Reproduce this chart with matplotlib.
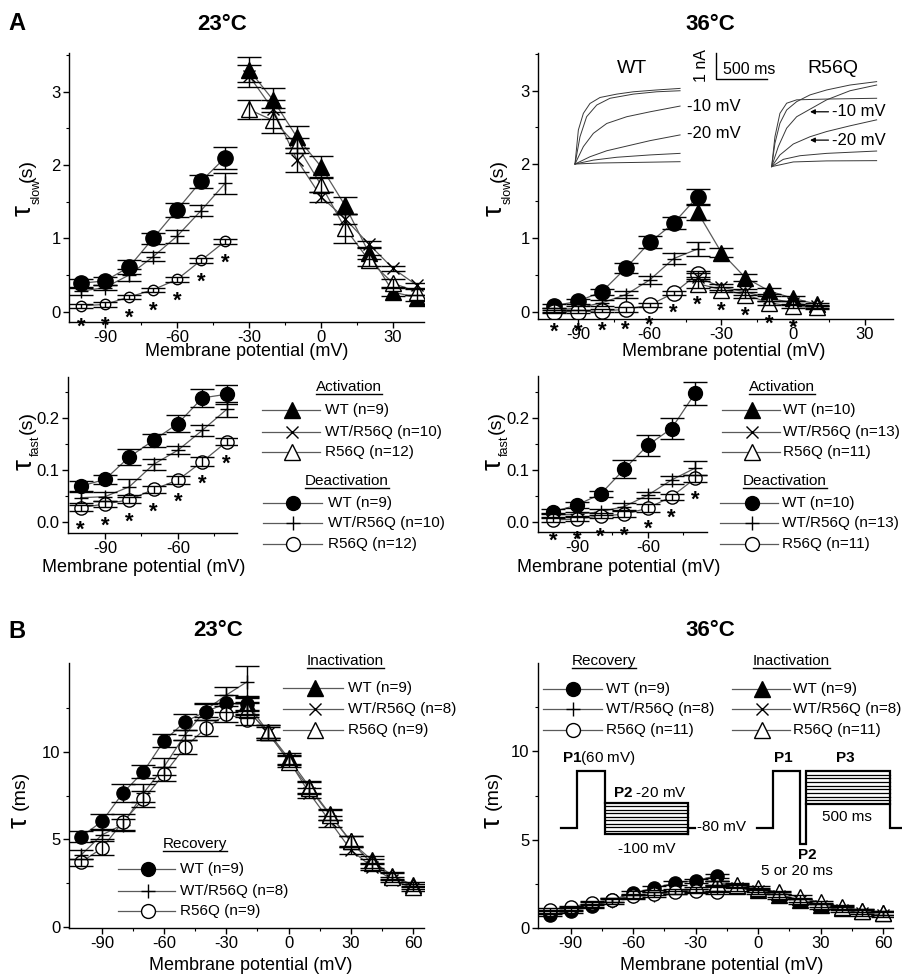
import matplotlib
matplotlib.use('Agg')
import matplotlib.pyplot as plt
from matplotlib.lines import Line2D
import numpy as np

plt.rcParams['font.family'] = ['Liberation Sans', 'DejaVu Sans']
plt.rcParams['mathtext.fontset'] = 'custom'
plt.rcParams['mathtext.rm'] = 'Liberation Sans'
plt.rcParams['mathtext.it'] = 'Liberation Sans:italic'
plt.rcParams['mathtext.bf'] = 'Liberation Sans:bold'
plt.rcParams['axes.unicode_minus'] = False

# ---------------- data ----------------
V_DEACT = [-100, -90, -80, -70, -60, -50, -40]
V_ACT23 = [-30, -20, -10, 0, 10, 20, 30, 40]
V_ACT36 = [-40, -30, -20, -10, 0, 10]
V_REC = [-100, -90, -80, -70, -60, -50, -40, -30, -20]
V_INACT = [-20, -10, 0, 10, 20, 30, 40, 50, 60]

# A, 23 C, tau slow (s)
slow23_deact_wt = [0.39, 0.42, 0.61, 1.00, 1.39, 1.78, 2.10]
slow23_deact_wt_err = [0.05, 0.05, 0.09, 0.08, 0.10, 0.09, 0.15]
slow23_deact_het = [0.28, 0.33, 0.50, 0.75, 1.03, 1.38, 1.75]
slow23_deact_het_err = [0.05, 0.04, 0.08, 0.06, 0.09, 0.07, 0.14]
slow23_deact_mut = [0.08, 0.10, 0.20, 0.30, 0.44, 0.70, 0.96]
slow23_deact_mut_err = [0.03, 0.03, 0.03, 0.03, 0.03, 0.03, 0.03]
slow23_act_wt = [3.30, 2.89, 2.38, 1.98, 1.45, 0.80, 0.27, 0.19]
slow23_act_wt_err = [0.17, 0.16, 0.15, 0.14, 0.12, 0.08, 0.05, 0.04]
slow23_act_het = [3.22, 2.76, 2.07, 1.57, 1.27, 0.92, 0.59, 0.36]
slow23_act_het_err = [0.15, 0.13, 0.17, 0.07, 0.07, 0.05, 0.04, 0.03]
slow23_act_mut = [2.76, 2.61, 2.27, 1.73, 1.14, 0.70, 0.39, 0.27]
slow23_act_mut_err = [0.13, 0.17, 0.10, 0.10, 0.20, 0.07, 0.05, 0.04]
stars_slow23 = [-100, -90, -80, -70, -60, -50, -40]

# A, 36 C, tau slow (s)
slow36_deact_wt = [0.08, 0.14, 0.27, 0.59, 0.94, 1.20, 1.56]
slow36_deact_wt_err = [0.03, 0.03, 0.04, 0.07, 0.08, 0.08, 0.10]
slow36_deact_het = [0.02, 0.05, 0.12, 0.23, 0.43, 0.72, 0.85]
slow36_deact_het_err = [0.03, 0.03, 0.04, 0.05, 0.06, 0.07, 0.09]
slow36_deact_mut = [0.00, 0.00, 0.01, 0.03, 0.09, 0.25, 0.51]
slow36_deact_mut_err = [0.02, 0.02, 0.02, 0.03, 0.03, 0.03, 0.04]
slow36_act_wt = [1.35, 0.80, 0.46, 0.28, 0.18, 0.10]
slow36_act_wt_err = [0.10, 0.06, 0.05, 0.04, 0.03, 0.02]
slow36_act_het = [0.47, 0.33, 0.27, 0.18, 0.12, 0.07]
slow36_act_het_err = [0.06, 0.04, 0.04, 0.03, 0.02, 0.02]
slow36_act_mut = [0.38, 0.30, 0.23, 0.12, 0.07, 0.06]
slow36_act_mut_err = [0.06, 0.04, 0.04, 0.03, 0.02, 0.02]
stars_slow36_deact = [-100, -90, -80, -70, -60, -50]
stars_slow36_act = [-40, -30, -20, -10, 0]

# A, tau fast (s)
fast23_wt = [0.069, 0.082, 0.125, 0.157, 0.189, 0.238, 0.245]
fast23_wt_err = [0.010, 0.008, 0.016, 0.012, 0.016, 0.017, 0.018]
fast23_het = [0.047, 0.049, 0.068, 0.111, 0.138, 0.176, 0.216]
fast23_het_err = [0.010, 0.008, 0.015, 0.010, 0.008, 0.010, 0.015]
fast23_mut = [0.028, 0.035, 0.043, 0.063, 0.081, 0.116, 0.154]
fast23_mut_err = [0.006, 0.006, 0.006, 0.007, 0.008, 0.008, 0.007]
fast36_wt = [0.019, 0.032, 0.053, 0.101, 0.147, 0.179, 0.247]
fast36_wt_err = [0.005, 0.005, 0.006, 0.017, 0.020, 0.020, 0.022]
fast36_het = [0.013, 0.014, 0.019, 0.029, 0.051, 0.080, 0.103]
fast36_het_err = [0.004, 0.004, 0.006, 0.006, 0.006, 0.007, 0.013]
fast36_mut = [0.003, 0.005, 0.011, 0.014, 0.026, 0.048, 0.083]
fast36_mut_err = [0.004, 0.004, 0.005, 0.006, 0.007, 0.006, 0.007]
stars_fast = [-100, -90, -80, -70, -60, -50, -40]

# B, tau (ms)
rec23_wt = [5.16, 6.02, 7.63, 8.86, 10.63, 11.70, 12.28, 12.75, 12.70]
rec23_wt_err = [0.30, 0.45, 0.50, 0.35, 0.35, 0.45, 0.45, 0.50, 0.40]
rec23_het = [4.12, 5.26, 5.83, 7.63, 9.15, 10.95, 12.37, 13.23, 13.98]
rec23_het_err = [0.25, 0.25, 0.35, 0.50, 0.50, 0.30, 0.40, 0.45, 0.90]
rec23_mut = [3.70, 4.50, 5.98, 7.30, 8.73, 10.25, 11.33, 12.14, 11.80]
rec23_mut_err = [0.20, 0.40, 0.45, 0.45, 0.40, 0.40, 0.45, 0.45, 0.30]
inact23_wt = [12.75, 11.14, 9.62, 8.00, 6.43, 4.88, 3.83, 2.92, 2.41]
inact23_wt_err = [0.40, 0.35, 0.30, 0.35, 0.30, 0.30, 0.25, 0.20, 0.15]
inact23_het = [12.47, 11.04, 9.53, 7.63, 6.02, 4.40, 3.45, 2.70, 2.22]
inact23_het_err = [0.35, 0.35, 0.30, 0.30, 0.30, 0.25, 0.20, 0.15, 0.15]
inact23_mut = [12.37, 11.14, 9.43, 7.91, 6.39, 4.88, 3.64, 2.88, 2.31]
inact23_mut_err = [0.40, 0.35, 0.30, 0.35, 0.30, 0.30, 0.25, 0.20, 0.15]

rec36_wt = [0.75, 0.94, 1.26, 1.60, 1.98, 2.26, 2.55, 2.68, 2.96]
rec36_wt_err = [0.08, 0.08, 0.10, 0.10, 0.10, 0.12, 0.12, 0.12, 0.12]
rec36_het = [0.89, 1.08, 1.32, 1.51, 1.79, 1.89, 2.08, 2.17, 2.17]
rec36_het_err = [0.12, 0.12, 0.15, 0.15, 0.15, 0.15, 0.15, 0.15, 0.15]
rec36_mut = [1.04, 1.19, 1.42, 1.60, 1.79, 1.94, 2.02, 2.08, 2.02]
rec36_mut_err = [0.08, 0.08, 0.10, 0.10, 0.10, 0.10, 0.10, 0.10, 0.10]
inact36_wt = [2.55, 2.36, 2.17, 1.89, 1.60, 1.32, 1.13, 0.94, 0.85]
inact36_wt_err = [0.12, 0.12, 0.12, 0.12, 0.12, 0.12, 0.12, 0.12, 0.12]
inact36_het = [2.50, 2.26, 2.08, 1.79, 1.51, 1.23, 1.04, 0.85, 0.75]
inact36_het_err = [0.15, 0.15, 0.15, 0.15, 0.15, 0.15, 0.15, 0.15, 0.15]
inact36_mut = [2.55, 2.42, 2.26, 2.02, 1.74, 1.45, 1.19, 0.98, 0.85]
inact36_mut_err = [0.10, 0.10, 0.10, 0.10, 0.10, 0.10, 0.10, 0.10, 0.10]

# inset current traces (time ms, current nA)
wt_trace_t = [[0, 33, 82, 147, 245, 409, 572, 801, 1030],
              [0, 49, 114, 213, 343, 572, 801, 1030],
              [0, 82, 180, 311, 507, 736, 1030],
              [0, 147, 311, 507, 736, 1030],
              [0, 180, 409, 736, 1030],
              [0, 245, 572, 1030]]
wt_trace_i = [[0, 1.31, 1.95, 2.33, 2.56, 2.69, 2.78, 2.85, 2.91],
              [0, 1.05, 1.82, 2.27, 2.53, 2.69, 2.78, 2.82],
              [0, 0.67, 1.18, 1.56, 1.82, 2.01, 2.23],
              [0, 0.28, 0.51, 0.69, 0.90, 1.12],
              [0, 0.15, 0.26, 0.35, 0.41],
              [0, 0.04, 0.06, 0.09]]
mut_trace_t = [[0, 32, 81, 147, 245, 376, 539, 768, 1029],
               [0, 65, 147, 245, 376, 539, 768, 1029],
               [0, 32, 81, 147, 245, 539, 1029],
               [0, 81, 212, 376, 539, 768, 1029],
               [0, 114, 278, 539, 1029],
               [0, 212, 539, 1029]]
mut_trace_i = [[0, 0.90, 1.67, 2.18, 2.50, 2.76, 2.95, 3.14, 3.27],
               [0, 0.77, 1.48, 1.92, 2.21, 2.57, 2.92, 3.14],
               [0, 1.15, 2.05, 2.44, 2.57, 2.60, 2.63],
               [0, 0.45, 0.87, 1.15, 1.35, 1.57, 1.80],
               [0, 0.28, 0.42, 0.51, 0.60],
               [0, 0.18, 0.22, 0.23]]

# ---------------- layout ----------------
W, H = 903, 977
fig = plt.figure(figsize=(W / 100, H / 100), dpi=100)
LINE = '#5a5a5a'
CAP = 8.5


def rect(x0, y0, x1, y1):
    return [x0 / W, 1 - y1 / H, (x1 - x0) / W, (y1 - y0) / H]


def setup(ax, xlim, ylim, xt, yt, xm, ym, yfmt=None):
    ax.set_xlim(xlim)
    ax.set_ylim(ylim)
    for s in ['top', 'right']:
        ax.spines[s].set_visible(False)
    for s in ['left', 'bottom']:
        ax.spines[s].set_linewidth(1.0)
    ax.set_xticks(xt)
    ax.set_xticks(xm, minor=True)
    ax.set_yticks(yt)
    ax.set_yticks(ym, minor=True)
    if yfmt:
        ax.set_yticklabels([yfmt.format(v) for v in yt])
    ax.tick_params(which='major', direction='out', length=4, width=1, labelsize=12, pad=2)
    ax.tick_params(which='minor', direction='out', length=2.5, width=0.8)
    ax.patch.set_visible(False)


def series(ax, x, y, e, marker, ms, face, mew=1.0, z=2):
    ax.plot(x, y, '-', color=LINE, lw=0.9, zorder=z)
    ax.plot(x, y, ls='none', marker=marker, ms=ms, mfc=face, mec='black', mew=mew, zorder=z + 0.3)
    ax.errorbar(x, y, yerr=e, fmt='none', ecolor='black', elinewidth=1.0, capsize=CAP,
                capthick=1.0, zorder=z + 0.6)


def stars(ax, xs, vx, vy, off=15):
    lut = dict(zip(vx, vy))
    for xv in xs:
        ax.annotate('*', xy=(xv, lut[xv]), xytext=(0, -off - 12), textcoords='offset pixels',
                    ha='center', va='baseline', fontsize=16, fontweight='bold',
                    annotation_clip=False, zorder=6)


# overlay in pixel coordinates
ov = fig.add_axes([0, 0, 1, 1])
ov.set_xlim(0, W)
ov.set_ylim(H, 0)
ov.axis('off')
ov.set_zorder(10)
ov.patch.set_visible(False)

# ---- A top-left ----
a1 = fig.add_axes(rect(69, 53, 424, 322))
setup(a1, (-105, 42.9), (-0.14, 3.53), [-90, -60, -30, 0, 30], [0, 1, 2, 3],
      [-75, -45, -15, 15], [0.5, 1.5, 2.5, 3.5])
series(a1, V_DEACT, slow23_deact_wt, slow23_deact_wt_err, 'o', 11, 'black')
series(a1, V_DEACT, slow23_deact_het, slow23_deact_het_err, '+', 10, 'black')
series(a1, V_DEACT, slow23_deact_mut, slow23_deact_mut_err, 'o', 7.5, 'white')
series(a1, V_ACT23, slow23_act_wt, slow23_act_wt_err, '^', 11, 'black')
series(a1, V_ACT23, slow23_act_het, slow23_act_het_err, 'x', 9, 'black')
series(a1, V_ACT23, slow23_act_mut, slow23_act_mut_err, '^', 11, 'white')
stars(a1, stars_slow23, V_DEACT, slow23_deact_mut)

# ---- A top-right ----
a2 = fig.add_axes(rect(538, 53, 893, 319))
setup(a2, (-106.7, 41.7), (-0.1, 3.51), [-90, -60, -30, 0, 30], [0, 1, 2, 3],
      [-75, -45, -15, 15], [0.5, 1.5, 2.5, 3.5])
series(a2, V_DEACT, slow36_deact_wt, slow36_deact_wt_err, 'o', 11, 'black')
series(a2, V_DEACT, slow36_deact_het, slow36_deact_het_err, '+', 10, 'black')
series(a2, V_DEACT, slow36_deact_mut, slow36_deact_mut_err, 'o', 11, 'white')
series(a2, V_ACT36, slow36_act_wt, slow36_act_wt_err, '^', 11, 'black')
series(a2, V_ACT36, slow36_act_het, slow36_act_het_err, 'x', 9, 'black')
series(a2, V_ACT36, slow36_act_mut, slow36_act_mut_err, '^', 11, 'white')
stars(a2, stars_slow36_deact, V_DEACT, slow36_deact_mut, off=14)
stars(a2, stars_slow36_act, V_ACT36, slow36_act_mut, off=15)

# ---- A lower-left ----
a3 = fig.add_axes(rect(68, 377, 237, 533))
setup(a3, (-105.2, -35.75), (-0.0205, 0.278), [-90, -60], [0.0, 0.1, 0.2],
      [-75, -45], [0.05, 0.15, 0.25], '{:.1f}')
series(a3, V_DEACT, fast23_wt, fast23_wt_err, 'o', 10, 'black')
series(a3, V_DEACT, fast23_het, fast23_het_err, '+', 10, 'black')
series(a3, V_DEACT, fast23_mut, fast23_mut_err, 'o', 9.5, 'white')
stars(a3, stars_fast, V_DEACT, fast23_mut, off=16)

# ---- A lower-right ----
a4 = fig.add_axes(rect(538, 376, 707, 532))
setup(a4, (-106.5, -35), (-0.02, 0.28), [-90, -60], [0.0, 0.1, 0.2],
      [-75, -45], [0.05, 0.15, 0.25], '{:.1f}')
series(a4, V_DEACT, fast36_wt, fast36_wt_err, 'o', 10, 'black')
series(a4, V_DEACT, fast36_het, fast36_het_err, '+', 10, 'black')
series(a4, V_DEACT, fast36_mut, fast36_mut_err, 'o', 9.5, 'white')
stars(a4, stars_fast, V_DEACT, fast36_mut, off=15)

# ---- B left ----
b1 = fig.add_axes(rect(69, 663, 424, 928))
setup(b1, (-105.9, 65.3), (-0.05, 15.05), [-90, -60, -30, 0, 30, 60], [0, 5, 10],
      [-75, -45, -15, 15, 45], [2.5, 7.5, 12.5])
series(b1, V_REC, rec23_wt, rec23_wt_err, 'o', 9.5, 'black')
series(b1, V_REC, rec23_het, rec23_het_err, '+', 10, 'black')
series(b1, V_REC, rec23_mut, rec23_mut_err, 'o', 9.5, 'white')
series(b1, V_INACT, inact23_wt, inact23_wt_err, '^', 11, 'black')
series(b1, V_INACT, inact23_het, inact23_het_err, 'x', 9, 'black')
series(b1, V_INACT, inact23_mut, inact23_mut_err, '^', 11, 'white')

# ---- B right ----
b2 = fig.add_axes(rect(538, 663, 893, 928))
setup(b2, (-105.7, 64.7), (0, 15), [-90, -60, -30, 0, 30, 60], [0, 5, 10],
      [-75, -45, -15, 15, 45], [2.5, 7.5, 12.5])
series(b2, V_REC, rec36_wt, rec36_wt_err, 'o', 9.5, 'black')
series(b2, V_REC, rec36_het, rec36_het_err, '+', 10, 'black')
series(b2, V_REC, rec36_mut, rec36_mut_err, 'o', 9.5, 'white')
series(b2, V_INACT, inact36_wt, inact36_wt_err, '^', 11, 'black')
series(b2, V_INACT, inact36_het, inact36_het_err, 'x', 9, 'black')
series(b2, V_INACT, inact36_mut, inact36_mut_err, '^', 11, 'white')

# ---- inset traces ----
MUT_T_OFFSET = 1928
MUT_I_OFFSET = -0.1
ins = fig.add_axes(rect(565, 45, 885, 170))
ins.set_xlim(-98, 3039)
ins.set_ylim(-0.23, 4.58)
ins.axis('off')
ins.set_zorder(8)
for t, i in zip(wt_trace_t, wt_trace_i):
    ins.plot(t, i, color='#383838', lw=0.7)
for t, i in zip(mut_trace_t, mut_trace_i):
    ins.plot(np.array(t) + MUT_T_OFFSET, np.array(i) + MUT_I_OFFSET, color='#383838', lw=0.7)
ins.plot([1382, 1382, 1882], [4.27, 3.27, 3.27], color='black', lw=1.0)
ins.text(1451, 3.65, '500 ms', ha='left', va='center', fontsize=11.5)
ins.text(1245, 3.77, '1 nA', ha='center', va='center', rotation=90, fontsize=11.5)
ins.text(559, 3.69, 'WT', ha='center', va='center', fontsize=14)
ins.text(2529, 3.69, 'R56Q', ha='center', va='center', fontsize=14)
ins.text(1098, 2.23, '-10 mV', ha='left', va='center', fontsize=12)
ins.text(1098, 1.19, '-20 mV', ha='left', va='center', fontsize=12)
ins.text(2520, 2.01, '-10 mV', ha='left', va='center', fontsize=12)
ins.text(2520, 0.92, '-20 mV', ha='left', va='center', fontsize=12)
for yy in (2.01, 0.92):
    ins.annotate('', xy=(2304, yy), xytext=(2485, yy),
                 arrowprops=dict(arrowstyle='-|>', color='black', lw=0.9,
                                 mutation_scale=7, shrinkA=0, shrinkB=0))

# ---- headers, axis labels ----
ov.text(8, 24, 'A', ha='left', va='center', fontsize=17, fontweight='bold')
ov.text(222, 24, '23°C', ha='center', va='center', fontsize=16, fontweight='bold')
ov.text(710, 24, '36°C', ha='center', va='center', fontsize=16, fontweight='bold')
ov.text(8, 631, 'B', ha='left', va='center', fontsize=17, fontweight='bold')
ov.text(218, 631, '23°C', ha='center', va='center', fontsize=16, fontweight='bold')
ov.text(710, 631, '36°C', ha='center', va='center', fontsize=16, fontweight='bold')

XL = 'Membrane potential (mV)'
for (px, py) in [(247, 352), (724, 352), (144, 567), (619, 567), (251, 965), (722, 965)]:
    ov.text(px, py, XL, ha='center', va='center', fontsize=13)


def vtext(x, y, s, fs):
    ov.text(x, y, s, ha='center', va='center', rotation=90, fontsize=fs)


# tau_slow(s)
for dx in (0, 471):
    vtext(24 + dx, 211, 'τ', 20)
    vtext(37 + dx, 191, 'slow', 9)
    vtext(27 + dx, 170, '(s)', 14)
# tau_fast(s)
for dx in (0, 469):
    vtext(25 + dx, 465, 'τ', 20)
    vtext(36 + dx, 446, 'fast', 9)
    vtext(27 + dx, 423, '(s)', 14)
# tau (ms)
for dx in (0, 473):
    vtext(20 + dx, 823, 'τ', 20)
    vtext(20 + dx, 790, '(ms)', 14)

# ---- legends ----
headers = []


def header(x, yb, label):
    t = ov.text(x, yb, label, ha='left', va='baseline', fontsize=11)
    headers.append((t, yb))


def entry(xa, xb, xm, xt, y, marker, ms, face, label):
    ov.add_line(Line2D([xa, xb], [y, y], color=LINE, lw=0.9))
    ov.plot([xm], [y], ls='none', marker=marker, ms=ms, mfc=face, mec='black', mew=1.0)
    ov.text(xt, y, label, ha='left', va='center', fontsize=11)


ACT_STYLES = [('^', 11, 'black'), ('x', 9, 'black'), ('^', 11, 'white')]
DEACT_STYLES = [('o', 10, 'black'), ('+', 10, 'black'), ('o', 10, 'white')]

# A lower-left
header(316, 391, 'Activation')
for (m, s, f), y, lab in zip(ACT_STYLES, [410, 432, 452], ['WT (n=9)', 'WT/R56Q (n=10)', 'R56Q (n=12)']):
    entry(262, 320, 292, 325, y, m, s, f, lab)
header(305, 485, 'Deactivation')
for (m, s, f), y, lab in zip(DEACT_STYLES, [503, 523, 544], ['WT (n=9)', 'WT/R56Q (n=10)', 'R56Q (n=12)']):
    entry(263, 322, 293, 328, y, m, s, f, lab)

# A lower-right
header(749, 391, 'Activation')
for (m, s, f), y, lab in zip(ACT_STYLES, [410, 432, 452], ['WT (n=10)', 'WT/R56Q (n=13)', 'R56Q (n=11)']):
    entry(722, 780, 752, 783, y, m, s, f, lab)
header(743, 485, 'Deactivation')
for (m, s, f), y, lab in zip(DEACT_STYLES, [503, 523, 544], ['WT (n=10)', 'WT/R56Q (n=13)', 'R56Q (n=11)']):
    entry(720, 778, 752, 782, y, m, s, f, lab)

# B left
header(307, 665, 'Inactivation')
for (m, s, f), y, lab in zip(ACT_STYLES, [688, 709, 730], ['WT (n=9)', 'WT/R56Q (n=8)', 'R56Q (n=9)']):
    entry(283, 343, 315, 348, y, m, s, f, lab)
header(163, 848, 'Recovery')
for (m, s, f), y, lab in zip(DEACT_STYLES, [869, 891, 911], ['WT (n=9)', 'WT/R56Q (n=8)', 'R56Q (n=9)']):
    entry(118, 175, 148, 180, y, m, s, f, lab)

# B right
header(572, 665, 'Recovery')
for (m, s, f), y, lab in zip(DEACT_STYLES, [689, 709, 730], ['WT (n=9)', 'WT/R56Q (n=8)', 'R56Q (n=11)']):
    entry(543, 602, 573, 606, y, m, s, f, lab)
header(753, 665, 'Inactivation')
for (m, s, f), y, lab in zip(ACT_STYLES, [689, 709, 730], ['WT (n=9)', 'WT/R56Q (n=8)', 'R56Q (n=11)']):
    entry(732, 790, 762, 793, y, m, s, f, lab)

# ---- pulse protocols (B right) ----
PK = dict(color='black', lw=1.6, solid_joinstyle='miter')
ov.plot([561, 577, 577, 605, 605, 688, 688, 695], [828, 828, 771, 771, 834, 834, 828, 828], **PK)
ov.plot([605, 688, 688], [803, 803, 834], **PK)
for yy in np.linspace(803, 834, 10)[1:-1]:
    ov.plot([605, 688], [yy, yy], color='black', lw=0.9)
ov.plot([757, 773, 773, 800, 800, 806, 806, 890, 890, 903],
        [828, 828, 771, 771, 844, 844, 771, 771, 828, 828], **PK)
ov.plot([806, 890], [804, 804], **PK)
for yy in np.linspace(771, 804, 10)[1:-1]:
    ov.plot([806, 890], [yy, yy], color='black', lw=0.9)
ov.text(562, 758, r'$\mathbf{P1}$(60 mV)', ha='left', va='center', fontsize=11)
ov.text(613, 793, r'$\mathbf{P2}$ -20 mV', ha='left', va='center', fontsize=11)
ov.text(647, 849, '-100 mV', ha='center', va='center', fontsize=11)
ov.text(697, 827, '-80 mV', ha='left', va='center', fontsize=11)
ov.text(783, 758, 'P1', ha='center', va='center', fontsize=11, fontweight='bold')
ov.text(845, 758, 'P3', ha='center', va='center', fontsize=11, fontweight='bold')
ov.text(847, 817, '500 ms', ha='center', va='center', fontsize=11)
ov.text(807, 855, 'P2', ha='center', va='center', fontsize=11, fontweight='bold')
ov.text(797, 871, '5 or 20 ms', ha='center', va='center', fontsize=11)

# underline legend headers
fig.canvas.draw()
r = fig.canvas.get_renderer()
for t, yb in headers:
    bb = t.get_window_extent(r)
    ov.plot([bb.x0, bb.x1], [yb + 2.5, yb + 2.5], color='black', lw=1.0)

fig.savefig('out.png', dpi=100)
